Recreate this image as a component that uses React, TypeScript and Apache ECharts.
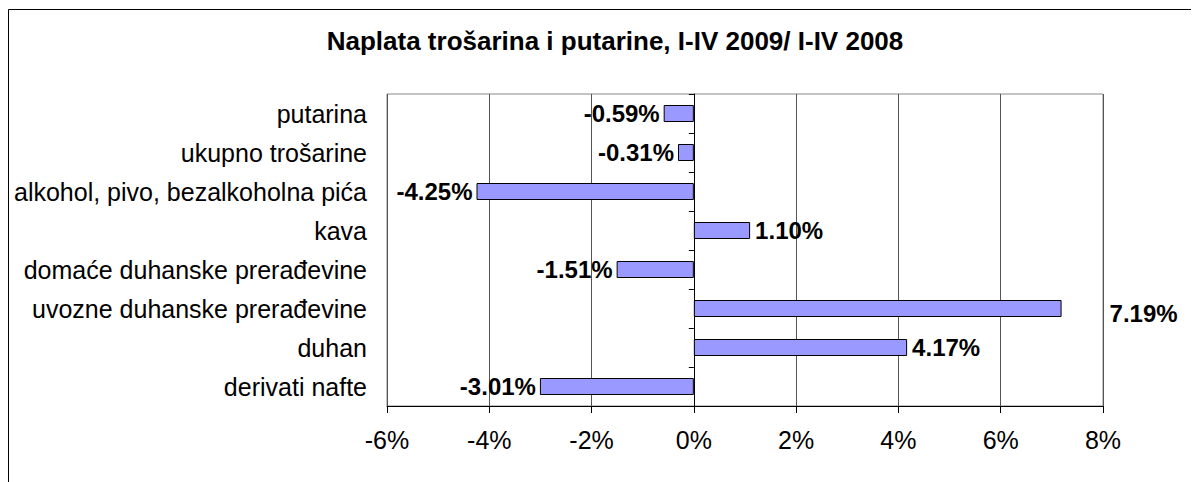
import React, { useEffect, useRef } from "react";
import * as echarts from "echarts";

const title = "Naplata trošarina i putarine, I-IV 2009/ I-IV 2008";
const categories = [
  "putarina",
  "ukupno trošarine",
  "alkohol, pivo, bezalkoholna pića",
  "kava",
  "domaće duhanske prerađevine",
  "uvozne duhanske prerađevine",
  "duhan",
  "derivati nafte",
];
const values = [-0.59, -0.31, -4.25, 1.1, -1.51, 7.19, 4.17, -3.01];
const xMin = -6;
const xMax = 8;
const xInterval = 2;

const FONT = "'Liberation Sans', Arial, sans-serif";

export default function App() {
  const ref = useRef<HTMLDivElement>(null);
  useEffect(() => {
    if (!ref.current) return;
    const chart = echarts.init(ref.current, null, { renderer: "svg" });
    chart.setOption({
      animation: false,
      backgroundColor: "#fff",
      textStyle: { fontFamily: FONT },
      graphic: [
        {
          type: "rect",
          shape: { x: 0.5, y: 1.5, width: 1400, height: 700 },
          style: { fill: "none", stroke: "#000", lineWidth: 1 },
          silent: true,
        },
        {
          type: "text",
          x: 607,
          y: 33,
          style: {
            text: title,
            fontFamily: FONT,
            fontSize: 26,
            fontWeight: "bold",
            fill: "#000",
            align: "center",
            verticalAlign: "middle",
          },
        },
      ],
      grid: {
        left: 379,
        top: 86,
        width: 716,
        height: 312,
        show: true,
        borderColor: "#888",
        borderWidth: 1,
        containLabel: false,
      },
      xAxis: {
        type: "value",
        min: xMin,
        max: xMax,
        interval: xInterval,
        axisLine: { show: true, onZero: false, lineStyle: { color: "#000", width: 1 } },
        axisTick: { show: true, length: 7, lineStyle: { color: "#000" } },
        axisLabel: {
          formatter: (v: number) => `${v}%`,
          fontSize: 25,
          color: "#000",
          fontFamily: FONT,
          margin: 21,
        },
        splitLine: { show: true, lineStyle: { color: "#555", width: 1 } },
      },
      yAxis: [
        {
          type: "category",
          data: categories,
          inverse: true,
          axisLine: { show: false, onZero: false },
          axisTick: { show: false },
          axisLabel: { fontSize: 25, color: "#000", fontFamily: FONT, margin: 20 },
          splitLine: { show: false },
        },
        {
          type: "category",
          data: categories,
          inverse: true,
          position: "left",
          axisLine: { show: true, onZero: true, lineStyle: { color: "#000", width: 1 } },
          axisTick: { show: true, length: 5, lineStyle: { color: "#000" } },
          axisLabel: { show: false },
          splitLine: { show: false },
        },
      ],
      series: [
        {
          type: "bar",
          yAxisIndex: 0,
          barWidth: 17,
          data: values.map((v) => ({
            value: v,
            label: {
              position: v < 0 ? "left" : "right",
              distance: v > 7 ? 48 : v < 0 ? 4 : 5,
              offset: v > 7 ? [0, 5] : [0, 0],
            },
          })),
          itemStyle: { color: "#9999ff", borderColor: "#000", borderWidth: 1 },
          label: {
            show: true,
            formatter: (p: any) => `${Number(p.value).toFixed(2)}%`,
            fontSize: 24,
            fontWeight: "bold",
            color: "#000",
            fontFamily: FONT,
          },
        },
      ],
    });
    return () => chart.dispose();
  }, []);
  return <div ref={ref} style={{ width: 1191, height: 474 }} />;
}
